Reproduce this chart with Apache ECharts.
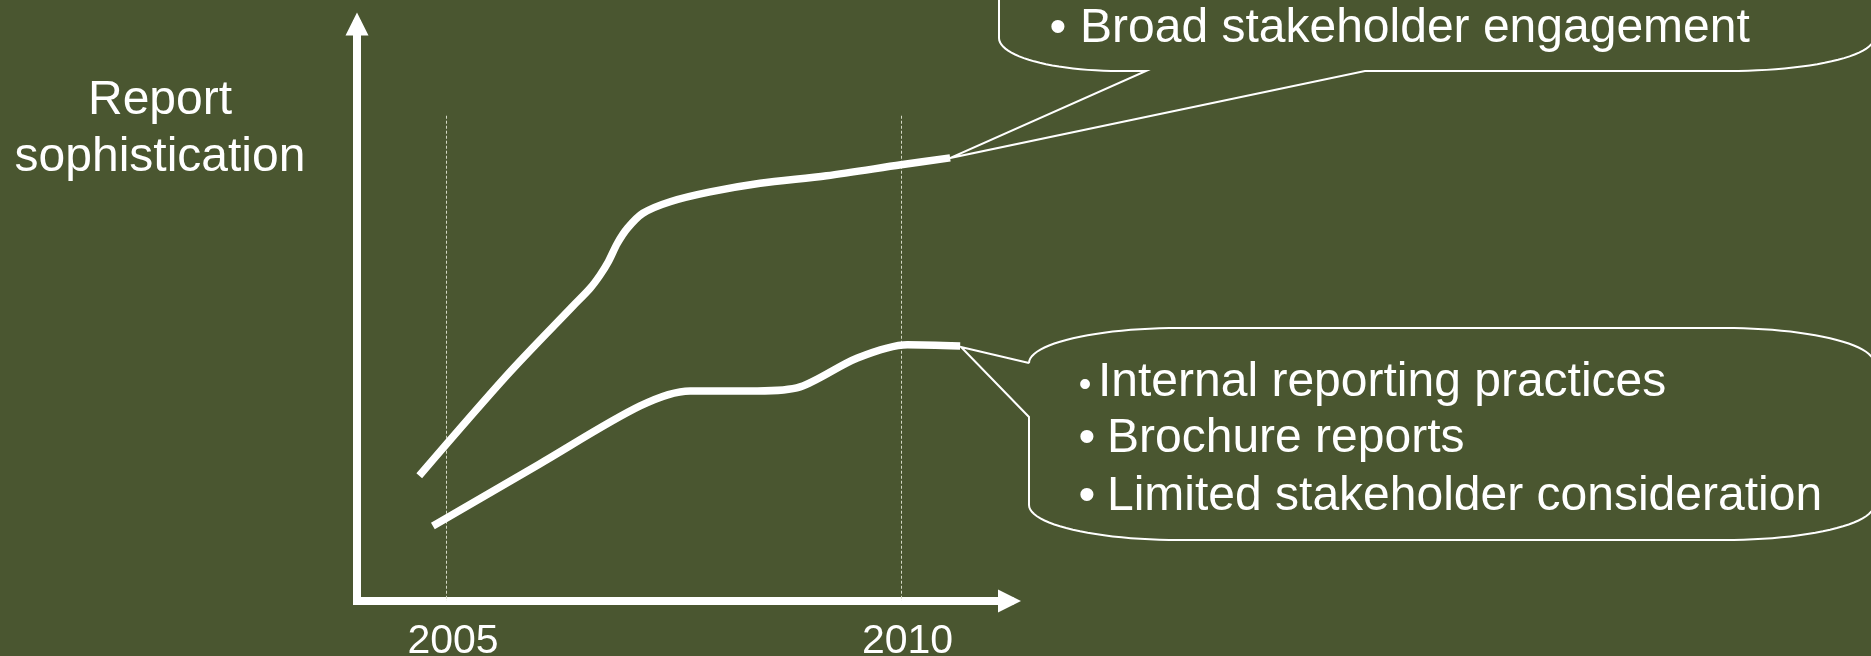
<!DOCTYPE html>
<html>
<head>
<meta charset="utf-8">
<script src="https://cdn.jsdelivr.net/npm/echarts@6/dist/echarts.min.js"></script>
<style>
  html, body { margin: 0; padding: 0; background: #4a5630; }
  #chart { width: 1871px; height: 656px; }
</style>
</head>
<body>
<div id="chart"></div>
<script>
// ---- data ----
const tickYears = [2005, 2010];
const axisTitle = ['Report', 'sophistication'];

// upper trajectory (year, sophistication)
const upperX = [2004.70, 2005.67, 2006.39, 2006.58, 2006.69, 2006.78, 2006.88, 2006.99, 2007.16, 2007.46, 2007.90, 2008.45, 2009.18, 2010.00, 2010.54];
const upperY = [21.7, 39.2, 51.1, 54.2, 56.5, 58.8, 62.0, 64.6, 67.2, 69.2, 70.9, 72.4, 73.7, 75.6, 76.8];

// lower trajectory (year, sophistication)
const lowerX = [2004.85, 2006.02, 2007.13, 2007.68, 2008.42, 2008.89, 2009.52, 2010.07, 2010.65];
const lowerY = [13.0, 23.7, 33.8, 36.4, 36.4, 37.1, 42.1, 44.4, 44.2];

const upperNotes = ['Broad stakeholder engagement'];
const lowerNotes = ['Internal reporting practices', 'Brochure reports', 'Limited stakeholder consideration'];

const guideTop = 84.1;

// ---- build ----
const FONT = '"Liberation Sans", Arial, Helvetica, sans-serif';
const WHITE = '#ffffff';

function pairs(xs, ys) { return xs.map((x, i) => [x, ys[i]]); }

function arc(cx, cy, rx, ry, a0, a1, n) {
  n = n || 24;
  const pts = [];
  for (let i = 0; i <= n; i++) {
    const t = (a0 + (a1 - a0) * i / n) * Math.PI / 180;
    pts.push([cx + rx * Math.cos(t), cy + ry * Math.sin(t)]);
  }
  return pts;
}

// lower callout outline
const lb = { L: 1029, R: 1874, T: 328, B: 540, rx: 150, ry: 35 };
const lowerBubble = [].concat(
  arc(lb.L + lb.rx, lb.T + lb.ry, lb.rx, lb.ry, 180, 270),
  arc(lb.R - lb.rx, lb.T + lb.ry, lb.rx, lb.ry, 270, 360),
  arc(lb.R - lb.rx, lb.B - lb.ry, lb.rx, lb.ry, 0, 90),
  arc(lb.L + lb.rx, lb.B - lb.ry, lb.rx, lb.ry, 90, 180),
  [[lb.L, 417], [961, 347], [lb.L, 363]]
);

// upper callout outline (top is off-screen)
const ub = { L: 999, R: 1874, T: -80, B: 71 };
const upperBubble = [].concat(
  [[ub.L, ub.T], [ub.L, ub.B - 33]],
  arc(ub.L + 120, ub.B - 33, 120, 33, 180, 90),
  [[1146, 71], [950, 158], [1365, 71]],
  arc(ub.R - 145, ub.B - 33, 145, 33, 90, 0),
  [[ub.R, ub.T]]
);

function txt(text, x, y, size, align) {
  return {
    type: 'text', silent: true, z: 50,
    style: {
      text: text, x: x, y: y, fill: WHITE,
      font: size + 'px ' + FONT,
      textAlign: align || 'left', textVerticalAlign: 'middle'
    }
  };
}

const DY = 5;
const graphics = [
  { type: 'polyline', silent: true, z: 40, shape: { points: upperBubble },
    style: { fill: 'none', stroke: WHITE, lineWidth: 2 } },
  { type: 'polyline', silent: true, z: 40, shape: { points: lowerBubble },
    style: { fill: 'none', stroke: WHITE, lineWidth: 2, lineJoin: 'miter' } },
  txt(axisTitle[0], 160, 101, 48, 'center'),
  txt(axisTitle[1], 160, 158, 48, 'center'),
  txt('\u2022', 1058, 23.4 + DY, 48, 'center'),
  txt(upperNotes[0], 1080, 23.4 + DY, 48),
  txt('\u2022', 1085, 381.5 + DY, 36, 'center'),
  txt(lowerNotes[0], 1098, 377.4 + DY, 48),
  txt('\u2022', 1087, 433.4 + DY, 48, 'center'),
  txt(lowerNotes[1], 1107, 433.4 + DY, 48),
  txt('\u2022', 1087, 491.4 + DY, 48, 'center'),
  txt(lowerNotes[2], 1107, 491.4 + DY, 48)
];

const lineStyle = { color: WHITE, width: 7.5, cap: 'butt', join: 'round' };

const option = {
  backgroundColor: '#4a5630',
  animation: false,
  grid: { left: 357, right: 861.5, top: 24, bottom: 55, containLabel: false, outerBoundsMode: 'none' },
  xAxis: {
    type: 'value', min: 2004.0154, max: 2011.193,
    axisLine: { show: true, onZero: false, symbol: ['none', 'triangle'], symbolSize: [23, 23],
      lineStyle: { color: WHITE, width: 8, cap: 'square' } },
    axisTick: { show: false },
    splitLine: { show: false },
    axisLabel: { show: true, customValues: tickYears, color: WHITE, fontSize: 41, fontFamily: FONT,
      margin: 20, padding: [0, 0, 0, 13], formatter: v => String(v) }
  },
  yAxis: {
    type: 'value', min: 0, max: 100,
    axisLine: { show: true, onZero: false, symbol: ['none', 'triangle'], symbolSize: [23, 23],
      lineStyle: { color: WHITE, width: 8, cap: 'square' } },
    axisTick: { show: false },
    splitLine: { show: false },
    axisLabel: { show: false }
  },
  series: [
    {
      name: 'Upper', type: 'line', data: pairs(upperX, upperY), smooth: 0.3,
      symbol: 'none', lineStyle: lineStyle, z: 5,
      markLine: {
        silent: true, symbol: ['none', 'none'], label: { show: false },
        lineStyle: { color: '#d4d8c4', width: 1, type: [3, 2] },
        data: tickYears.map(y => [{ coord: [y, guideTop] }, { coord: [y, 0] }])
      }
    },
    {
      name: 'Lower', type: 'line', data: pairs(lowerX, lowerY), smooth: 0.3,
      symbol: 'none', lineStyle: lineStyle, z: 5
    }
  ],
  graphic: graphics
};

const chart = echarts.init(document.getElementById('chart'), null, { renderer: 'canvas' });
chart.setOption(option);
</script>
</body>
</html>
